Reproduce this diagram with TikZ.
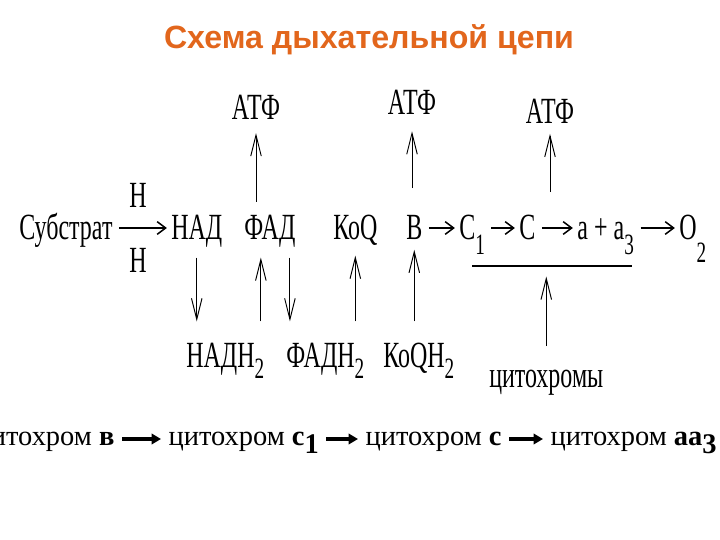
\documentclass[tikz,border=0pt]{standalone}
\usepackage{fontspec}
\setmainfont{Liberation Serif}
\newfontfamily\schemefont[FakeStretch=0.65]{Liberation Serif}
\newfontfamily\titlefont{Liberation Sans}
\usetikzlibrary{arrows.meta}
\definecolor{titleorange}{HTML}{E2661C}
\newcommand{\lowsub}[2][0.4em]{\raisebox{-#1}{\fontsize{28}{28}\selectfont #2}}
\newcommand{\cytsub}[1]{\raisebox{-0.3em}{\bfseries #1}}
\tikzset{
  chem/.style={font=\schemefont\fontsize{35}{35}\selectfont, inner sep=1pt, anchor=base west},
  cyt/.style={font=\fontsize{27}{27}\selectfont, inner sep=0pt, inner xsep=7pt, anchor=base west},
  rxn/.style={line width=1.4pt, shorten <=5pt, shorten >=3pt, -{Straight Barb[length=8pt,width=12pt,line width=1.4pt]}},
  vert/.style={line width=0.9pt, -{Straight Barb[length=20pt,width=10pt]}},
  flow/.style={line width=3pt, -{Triangle[length=9pt,width=10pt]}},
}
\begin{document}
\begin{tikzpicture}[x=0.0333333cm, y=-0.0333333cm]
	\useasboundingbox (0,0) rectangle (720,540);
	\clip (0,0) rectangle (720,540);
	\node[font=\titlefont\bfseries\fontsize{30.5}{30.5}\selectfont, text=titleorange] (title) at (369,40) {Схема дыхательной цепи};
	% main chain
	\node[chem] (sub) at (18,240) {Субстрат};
	\node[chem] (nad) at (170,240) {НАД};
	\node[chem] (fad) at (243,240) {ФАД};
	\node[chem] (koq) at (332,240) {КоQ};
	\node[chem] (cytb) at (405,240) {В};
	\node[chem] (cytc1) at (458,240) {С\lowsub{1}};
	\node[chem] (cytc) at (518,240) {С};
	\node[chem] (cytaa) at (576,240) {а\,+\,а\lowsub{3}};
	\node[chem] (oxy) at (678,240) {О\lowsub[0.6em]{2}};
	\node[chem, anchor=center] (hup) at (138,195) {Н};
	\node[chem, anchor=center] (hdown) at (138,260) {Н};
	\draw[rxn, line width=2pt] ([yshift=0.4cm]sub.base east) -- ([yshift=0.4cm]nad.base west);
	\draw[rxn] ([yshift=0.4cm]cytb.base east) -- ([yshift=0.4cm]cytc1.base west);
	\draw[rxn] ([yshift=0.4cm]cytc1.base east) -- ([yshift=0.4cm]cytc.base west);
	\draw[rxn] ([yshift=0.4cm]cytc.base east) -- ([yshift=0.4cm]cytaa.base west);
	\draw[rxn] ([yshift=0.4cm]cytaa.base east) -- ([yshift=0.4cm]oxy.base west);
	% ATP
	\node[chem, anchor=center] (atp1) at (256,107) {АТФ};
	\node[chem, anchor=center] (atp2) at (412,102) {АТФ};
	\node[chem, anchor=center] (atp3) at (550,111) {АТФ};
	\draw[vert, shorten <=12pt, shorten >=12pt] (fad.north -| atp1.south) -- (atp1.south);
	\draw[vert, shorten <=25pt, shorten >=15pt] (cytb.north -| atp2.south) -- (atp2.south);
	\draw[vert, shorten <=21pt, shorten >=9pt] (cytc.north -| atp3.south) -- (atp3.south);
	% reduced forms
	\node[chem] (nadh) at (185,367) {НАДН\lowsub[0.3em]{2}};
	\node[chem] (fadh) at (285,367) {ФАДН\lowsub[0.3em]{2}};
	\node[chem] (koqh) at (382,367) {КоQН\lowsub[0.3em]{2}};
	\node[chem] (cyts) at (488,387) {цитохромы};
	\coordinate (lineL) at (472,266);
	\coordinate (lineR) at (632,266);
	\draw[line width=2.5pt] (lineL) -- (lineR);
	\draw[vert, shorten <=8pt, shorten >=19pt] (nad.south) -- (nad.south |- nadh.north);
	\draw[vert, shorten <=19pt, shorten >=8pt] ([xshift=-0.3cm]fad.south |- nadh.north) -- ([xshift=-0.3cm]fad.south);
	\draw[vert, shorten <=8pt, shorten >=19pt] ([xshift=0.67cm]fad.south) -- ([xshift=0.67cm]fad.south |- fadh.north);
	\draw[vert, shorten <=19pt, shorten >=8pt] (koq.south |- koqh.north) -- (koq.south);
	\draw[vert, shorten <=19pt, shorten >=8pt] (cytb.south |- koqh.north) -- (cytb.south);
	\draw[vert, shorten <=21pt, shorten >=10pt] (cyts.north) -- (cyts.north |- lineL);
	% cytochrome row
	\node[cyt, anchor=base east] (cytB) at (122,445) {цитохром \textbf{в}};
	\node[cyt] (cytC1) at (161,445) {цитохром \textbf{с}\cytsub{1}};
	\node[cyt] (cytC) at (358,445) {цитохром \textbf{с}};
	\node[cyt] (cytAA) at (543,445) {цитохром \textbf{аа}\cytsub{3}};
	\draw[flow] ([yshift=0.2cm]cytB.base east) -- ([yshift=0.2cm]cytC1.base west);
	\draw[flow] ([yshift=0.2cm]cytC1.base east) -- ([yshift=0.2cm]cytC.base west);
	\draw[flow] ([yshift=0.2cm]cytC.base east) -- ([yshift=0.2cm]cytAA.base west);
\end{tikzpicture}
\end{document}
